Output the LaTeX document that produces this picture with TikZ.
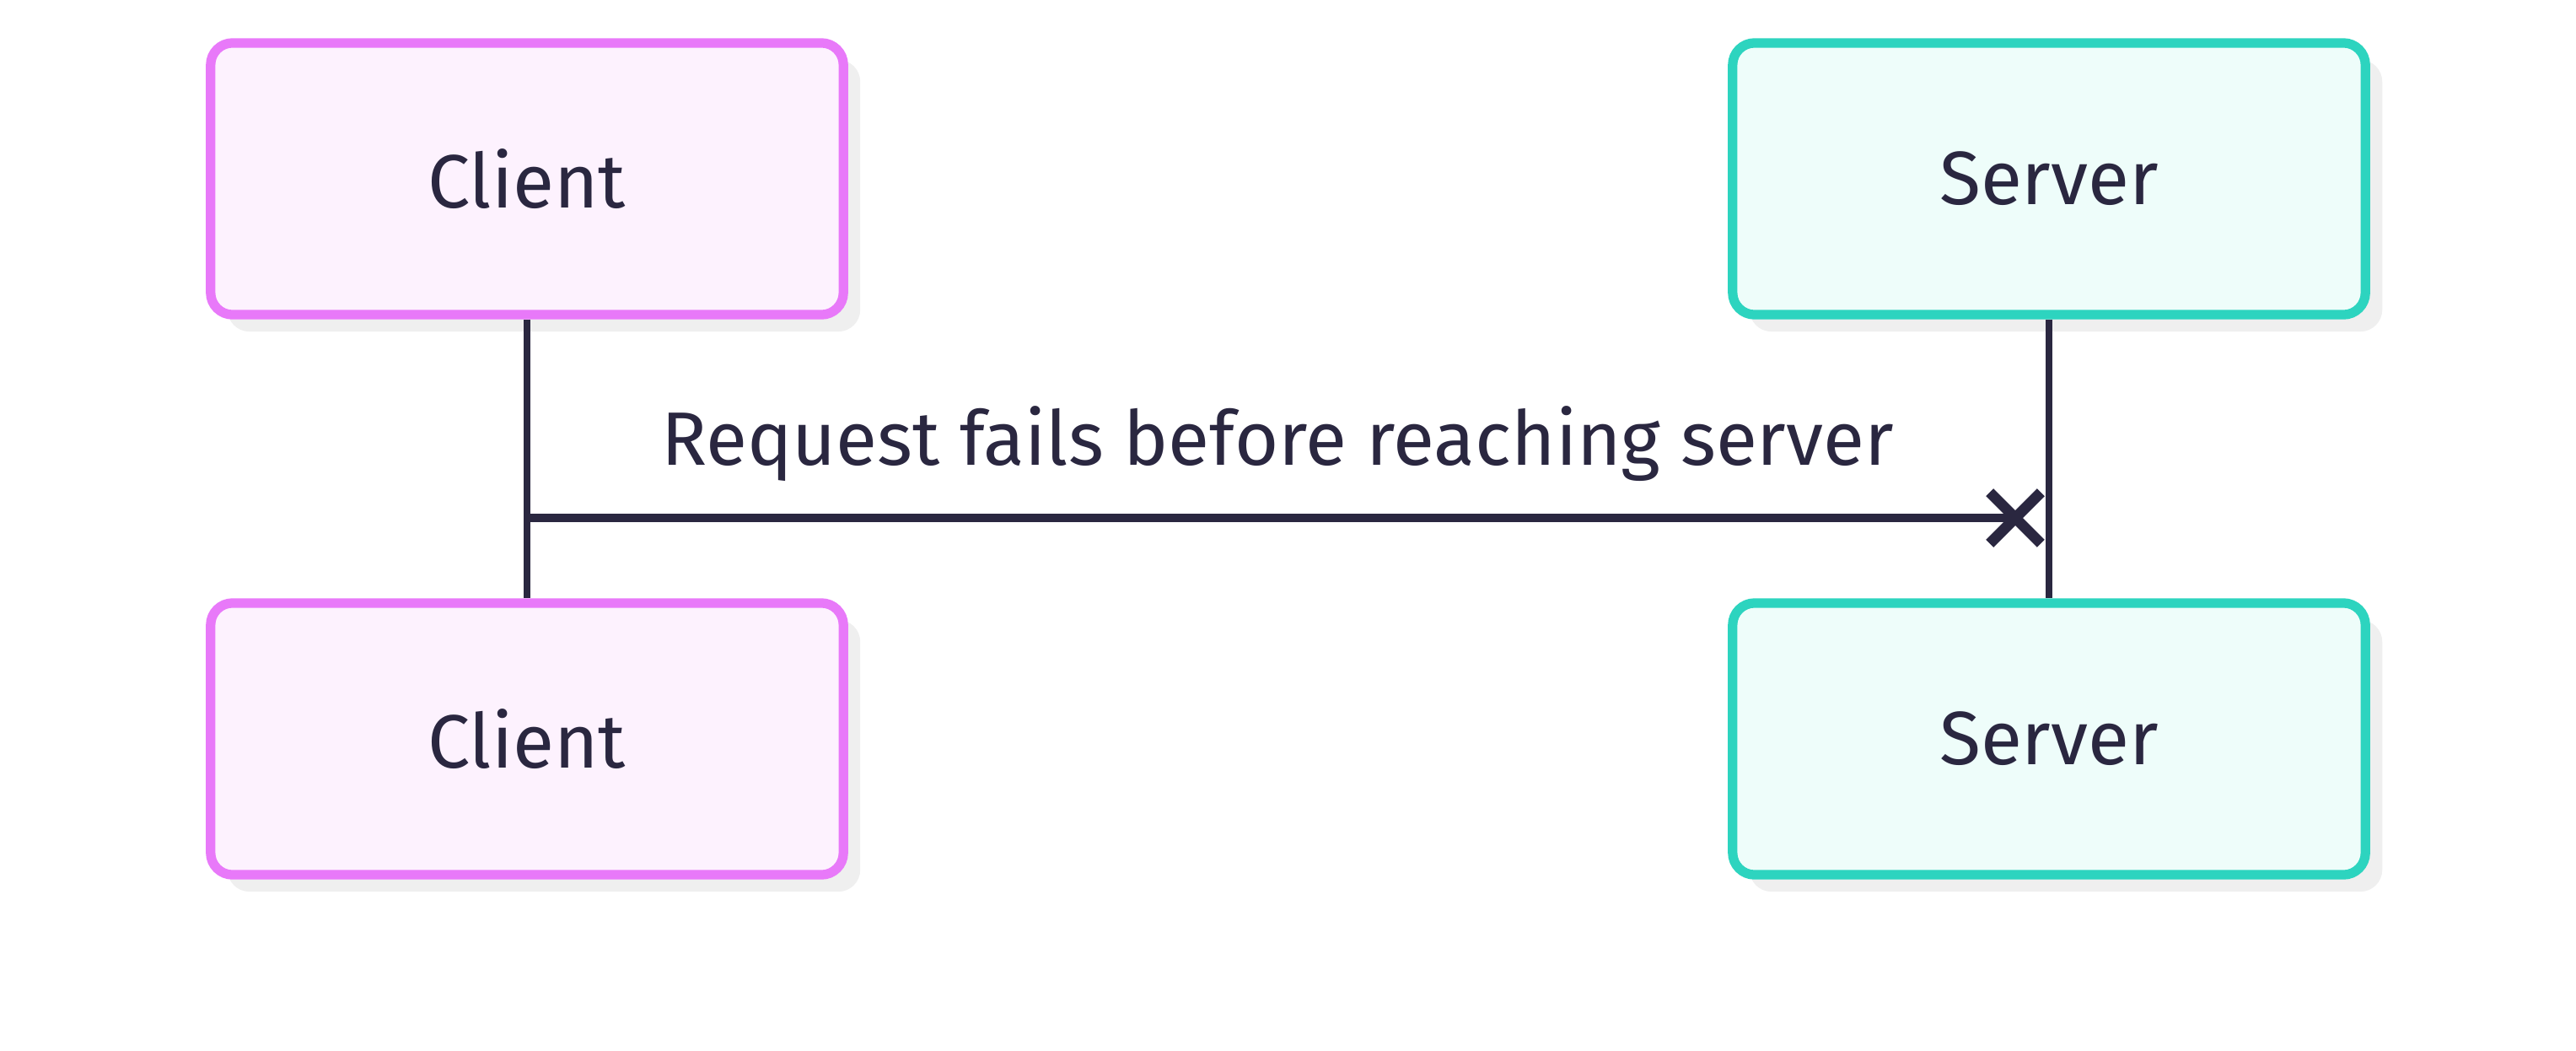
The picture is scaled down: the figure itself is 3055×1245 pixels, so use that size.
\documentclass[tikz,border=0pt]{standalone}
\usepackage{fontspec}
\setmainfont{Fira Sans}
\usetikzlibrary{shapes.misc,shadows}

\definecolor{clientline}{HTML}{E879F9}
\definecolor{clientfill}{HTML}{FDF2FE}
\definecolor{serverline}{HTML}{2DD4BF}
\definecolor{serverfill}{HTML}{EEFDFA}
\definecolor{ink}{HTML}{2A2740}
\definecolor{shade}{HTML}{EFEFEF}

\begin{document}
\begin{tikzpicture}[x=0.01cm,y=-0.01cm,
    actor/.style={rounded corners=0.26cm, line width=3.2pt,
      minimum width=7.5cm, minimum height=3.22cm,
      font=\fontsize{25.5}{30}\selectfont, text=ink,
      general shadow={fill=shade, shadow xshift=0.2cm, shadow yshift=-0.2cm}},
    client/.style={actor, draw=clientline, fill=clientfill},
    server/.style={actor, draw=serverline, fill=serverfill},
    life/.style={draw=ink, line width=2.4pt},
    msg/.style={draw=ink, line width=2.6pt}]
  \useasboundingbox (0,0) rectangle (3055,1245);

  % participants, top and bottom
  \node[client] (c1) at (625,212) {Client};
  \node[client] (c2) at (625,876) {Client};
  \node[server] (s1) at (2430,212) {Server};
  \node[server] (s2) at (2430,876) {Server};

  % lifelines
  \draw[life] (c1) -- (c2);
  \draw[life] (s1) -- (s2);

  % lost request
  \coordinate (hit) at (2390,614);
  \coordinate (req) at (c1 |- hit);
  \draw[msg] (req) -- (hit);
  \node[cross out, draw=ink, line width=3.6pt, minimum size=0.48cm, inner sep=0pt] (fail) at (hit) {};
  \node[anchor=base, font=\fontsize{25.5}{30}\selectfont, text=ink] (lbl) at (1515,551) {Request fails before reaching server};
\end{tikzpicture}
\end{document}
